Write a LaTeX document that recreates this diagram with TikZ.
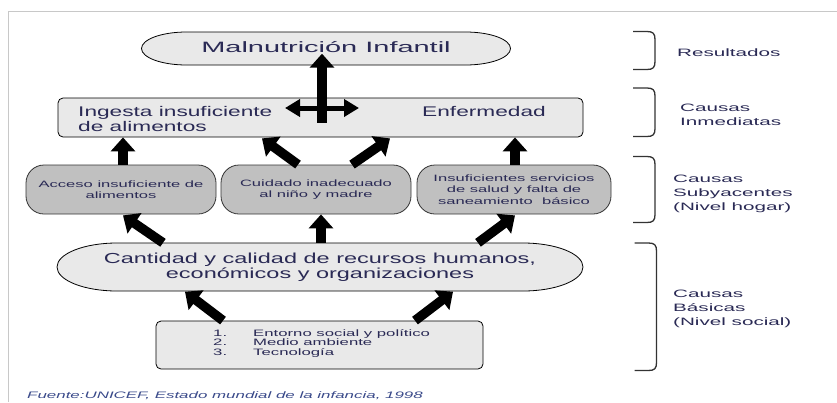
\documentclass[tikz,border=0pt]{standalone}
\usepackage{fontspec}
\setmainfont{Liberation Sans}
\newfontfamily\widefont{Liberation Sans}[FakeStretch=1.62]
\newfontfamily\widerfont{Liberation Sans}[FakeStretch=1.8]
\newfontfamily\widestfont{Liberation Sans}[FakeStretch=1.93]
\usepackage{tikz}
\usetikzlibrary{arrows.meta,positioning,calc}
\usepackage{xcolor}
\definecolor{Ink}{HTML}{2A2A55}
\definecolor{Paper}{HTML}{E9E9E9}
\definecolor{Stone}{HTML}{C0C0C0}
\definecolor{Rule}{HTML}{C8C8C8}
\definecolor{Cite}{HTML}{3A4A8A}
\tikzset{
  panel/.style={draw=black, line width=0.8pt, fill=Paper, rounded corners=5pt,
    inner sep=0pt},
  stonebox/.style={draw=black!80, line width=0.8pt, fill=Stone, rounded corners=18pt,
    minimum height=49pt, inner sep=0pt, align=center, text=Ink,
    font=\widerfont\fontsize{9.2}{11.3}\selectfont},
  lensline/.style={draw=black, line width=0.8pt, fill=Paper},
  fatarr/.style={-{Triangle[length=14pt,width=24pt]}, line width=9.5pt},
  twoarr/.style={{Triangle[length=15pt,width=17pt]}-{Triangle[length=15pt,width=17pt]},
    line width=5pt},
  bracket/.style={draw=black!80, line width=1.3pt},
}
% lens shaped outline: centre x, centre y, half width, half height, end length
\newcommand{\lensat}[5]{%
  \filldraw[lensline] ({#1-#3+#5},{#2-#4}) -- ({#1+#3-#5},{#2-#4})
    arc[start angle=-90, end angle=90, x radius=#5, y radius=#4]
    -- ({#1-#3+#5},{#2+#4})
    arc[start angle=90, end angle=270, x radius=#5, y radius=#4] -- cycle;}
% right hand bracket: spine x, top, bottom
\newcommand{\sidebracket}[3]{%
  \draw[bracket] ({#1-22},#2) -- ({#1-8},#2)
    .. controls ({#1-2},#2) and (#1,{#2+2}) .. (#1,{#2+8})
    -- (#1,{#3-8})
    .. controls (#1,{#3-2}) and ({#1-2},#3) .. ({#1-8},#3) -- ({#1-22},#3);}

\begin{document}
\begin{tikzpicture}[x=1pt, y=-1pt,
  txt/.style={text=Ink, inner sep=0pt},
  levtxt/.style={txt, align=left, font=\widestfont\fontsize{10.7}{14}\selectfont},
]
  \useasboundingbox (0,0) rectangle (837,402);
  \draw[Rule, line width=1.5pt] (8.5,402) -- (8.5,11.5) -- (837,11.5);

  % resultados
  \lensat{326}{48.5}{184.5}{16.5}{45}
  \node[txt, minimum width=369pt, minimum height=33pt, text height=10.5pt, text depth=2.5pt,
    font=\widestfont\fontsize{15}{18}\selectfont] (mal) at (326,48.5) {Malnutrición Infantil};

  % causas inmediatas
  \node[panel, minimum width=525pt, minimum height=39pt] (inm) at (320.5,117.5) {};
  \node[txt, align=left, anchor=west, font=\widefont\fontsize{14}{13}\selectfont]
    (ing) at (78,119) {Ingesta insuficiente\\de alimentos};
  \node[txt, anchor=base, font=\widefont\fontsize{14}{13}\selectfont]
    (enf) at (484,116.5) {Enfermedad};

  % causas subyacentes
  \node[stonebox, minimum width=190pt] (acc) at (121,189.5) {Acceso insuficiente de\\alimentos};
  \node[stonebox, minimum width=190pt] (cui) at (316,189.5) {Cuidado inadecuado\\al niño y madre};
  \node[stonebox, minimum width=194pt] (ins) at (514,189.5)
    {Insuficientes servicios\\de salud y falta de\\saneamiento \ básico};

  % causas basicas
  \lensat{320}{267}{263}{24}{60}
  \node[txt, align=center, minimum width=526pt, minimum height=48pt,
    font=\widefont\fontsize{14.5}{12.7}\selectfont] (rec) at (320,267)
    {Cantidad y calidad de recursos humanos,\\económicos y organizaciones};
  \node[panel, minimum width=327pt, minimum height=48pt] (bas) at (319.5,345) {};
  \node[txt, align=left, anchor=west, font=\widerfont\fontsize{9.3}{9.6}\selectfont]
    (lst) at (213,343.5)
    {\makebox[40pt][l]{1.}Entorno social y político\\
     \makebox[40pt][l]{2.}Medio ambiente\\
     \makebox[40pt][l]{3.}Tecnología};

  % flechas
  \draw[fatarr] ($(inm.north)+(1.5,25)$) -- ($(mal.south)+(-4,-11.5)$);
  \draw[twoarr] ($(inm.center)+(-35.5,-9.5)$) -- ($(inm.center)+(38.5,-9.5)$);
  \draw[fatarr] ($(acc.north)+(2,0)$) -- ($(acc.north |- inm.south)+(2,0)$);
  \draw[fatarr] ($(cui.north)+(-18,0)$) -- ($(cui.north |- inm.south)+(-54,1)$);
  \draw[fatarr] ($(cui.north)+(36,0)$) -- ($(cui.north |- inm.south)+(74,1)$);
  \draw[fatarr] ($(ins.north)+(1,0)$) -- ($(ins.north |- inm.south)+(1,0)$);
  \draw[fatarr] ($(rec.north)+(-157,0)$) -- ($(acc.south)+(2,1)$);
  \draw[fatarr] ($(rec.north)+(1,0)$) -- ($(rec.north |- cui.south)+(1,0)$);
  \draw[fatarr] ($(rec.north)+(158,0)$) -- ($(ins.south)+(1,1)$);
  \draw[fatarr] ($(bas.north)+(-96.5,0)$) -- ($(rec.south)+(-135,0.5)$);
  \draw[fatarr] ($(bas.north)+(95.5,0)$) -- ($(rec.south)+(133,0.5)$);

  % niveles
  \sidebracket{655}{31.5}{69.5}
  \sidebracket{655}{88}{136.5}
  \sidebracket{655}{156.5}{222.5}
  \sidebracket{656.5}{243}{370.5}
  \node[levtxt, anchor=base west] (res) at (677,56) {Resultados};
  \node[levtxt, anchor=west] (inmlab) at (680,115) {Causas\\Inmediatas};
  \node[levtxt, anchor=west] (sublab) at (673,193.5) {Causas\\Subyacentes\\(Nivel hogar)};
  \node[levtxt, anchor=west] (baslab) at (673,308.5) {Causas\\Básicas\\(Nivel social)};

  \node[txt, text=Cite, anchor=base west, font=\widerfont\itshape\fontsize{9.4}{11}\selectfont]
    (fuente) at (27,398.5) {Fuente:UNICEF, Estado mundial de la infancia, 1998};
\end{tikzpicture}
\end{document}
